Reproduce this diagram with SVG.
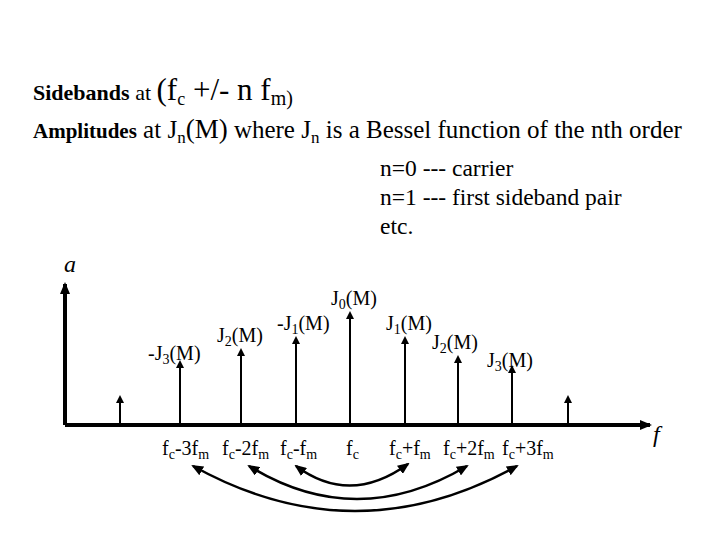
<svg xmlns="http://www.w3.org/2000/svg" width="720" height="540" viewBox="0 0 720 540">
<style>
text{font-family:"Liberation Serif","Times New Roman",serif;fill:#000}
.s{stroke:#000;stroke-width:2;fill:none}
.c{stroke:#000;stroke-width:2.5;fill:none}
.sub{font-size:14px}
</style>
<defs>
<marker id="ah" markerWidth="8" markerHeight="8" refX="6" refY="4" orient="auto" markerUnits="userSpaceOnUse"><path d="M0,0L8,4L0,8z" fill="#000"/></marker>
<marker id="as" markerWidth="12" markerHeight="10" refX="10" refY="5" orient="auto-start-reverse" markerUnits="userSpaceOnUse"><path d="M0,0L12,5L0,10z" fill="#000"/></marker>
</defs>
<rect width="720" height="540" fill="#fff"/>
<g id="header">
<text x="33" y="100" font-size="22"><tspan font-weight="bold" font-size="22">Sidebands</tspan> at  <tspan font-size="31">(f</tspan><tspan font-size="18" dy="5">c</tspan><tspan font-size="31" dy="-5"> +/- n f</tspan><tspan font-size="20" dy="5">m)</tspan></text>
<text x="33" y="138" font-size="25"><tspan font-weight="bold" font-size="21">Amplitudes</tspan> at J<tspan font-size="17" dy="5">n</tspan><tspan dy="-5" font-size="27">(M)</tspan>  where J<tspan font-size="17" dy="5">n</tspan><tspan dy="-5"> is a Bessel function of the nth order</tspan></text>
<text x="380" y="176" font-size="23.5">n=0 --- carrier</text>
<text x="380" y="205" font-size="23.5">n=1 --- first sideband pair</text>
<text x="380" y="234" font-size="23.5">etc.</text>
</g>
<g id="axes">
<line x1="65" y1="425" x2="65" y2="284" stroke="#000" stroke-width="4" marker-end="url(#as)"/>
<line x1="65" y1="425" x2="650" y2="425" stroke="#000" stroke-width="4" marker-end="url(#as)"/>
<text x="64" y="272" font-size="24" font-style="italic">a</text>
<text x="653" y="442" font-size="24" font-style="italic">f</text>
</g>
<g id="spikes">
<line class="s" x1="120" y1="425" x2="120" y2="397" marker-end="url(#ah)"/>
<line class="s" x1="180" y1="425" x2="180" y2="362" marker-end="url(#ah)"/>
<line class="s" x1="241" y1="425" x2="241" y2="350" marker-end="url(#ah)"/>
<line class="s" x1="296" y1="425" x2="296" y2="338" marker-end="url(#ah)"/>
<line class="s" x1="350" y1="425" x2="350" y2="313" marker-end="url(#ah)"/>
<line class="s" x1="405" y1="425" x2="405" y2="338" marker-end="url(#ah)"/>
<line class="s" x1="458" y1="425" x2="458" y2="357" marker-end="url(#ah)"/>
<line class="s" x1="512" y1="425" x2="512" y2="367" marker-end="url(#ah)"/>
<line class="s" x1="568" y1="425" x2="568" y2="397" marker-end="url(#ah)"/>
</g>
<g id="amp-labels">
<text x="148" y="360" font-size="20">-J<tspan class="sub" dy="4">3</tspan><tspan dy="-4">(M)</tspan></text>
<text x="217" y="342" font-size="20">J<tspan class="sub" dy="4">2</tspan><tspan dy="-4">(M)</tspan></text>
<text x="277" y="330" font-size="20">-J<tspan class="sub" dy="4">1</tspan><tspan dy="-4">(M)</tspan></text>
<text x="331" y="305" font-size="20">J<tspan class="sub" dy="4">0</tspan><tspan dy="-4">(M)</tspan></text>
<text x="386" y="330" font-size="20">J<tspan class="sub" dy="4">1</tspan><tspan dy="-4">(M)</tspan></text>
<text x="432" y="349" font-size="20">J<tspan class="sub" dy="4">2</tspan><tspan dy="-4">(M)</tspan></text>
<text x="487" y="367" font-size="20">J<tspan class="sub" dy="4">3</tspan><tspan dy="-4">(M)</tspan></text>
</g>
<g id="freq-labels">
<text x="162" y="455" font-size="20">f<tspan class="sub" dy="4">c</tspan><tspan dy="-4">-3f</tspan><tspan class="sub" dy="4">m</tspan></text>
<text x="222" y="455" font-size="20">f<tspan class="sub" dy="4">c</tspan><tspan dy="-4">-2f</tspan><tspan class="sub" dy="4">m</tspan></text>
<text x="280" y="455" font-size="20">f<tspan class="sub" dy="4">c</tspan><tspan dy="-4">-f</tspan><tspan class="sub" dy="4">m</tspan></text>
<text x="346" y="455" font-size="20">f<tspan class="sub" dy="4">c</tspan></text>
<text x="389" y="455" font-size="20">f<tspan class="sub" dy="4">c</tspan><tspan dy="-4">+f</tspan><tspan class="sub" dy="4">m</tspan></text>
<text x="443" y="455" font-size="20">f<tspan class="sub" dy="4">c</tspan><tspan dy="-4">+2f</tspan><tspan class="sub" dy="4">m</tspan></text>
<text x="502" y="455" font-size="20">f<tspan class="sub" dy="4">c</tspan><tspan dy="-4">+3f</tspan><tspan class="sub" dy="4">m</tspan></text>
</g>
<g id="connectors">
<path class="c" d="M296,466 Q350,506 408,464" marker-start="url(#as)" marker-end="url(#as)"/>
<path class="c" d="M249,466 Q356,532 467,466" marker-start="url(#as)" marker-end="url(#as)"/>
<path class="c" d="M193,466 Q355,556 517,466" marker-start="url(#as)" marker-end="url(#as)"/>
</g>
</svg>
